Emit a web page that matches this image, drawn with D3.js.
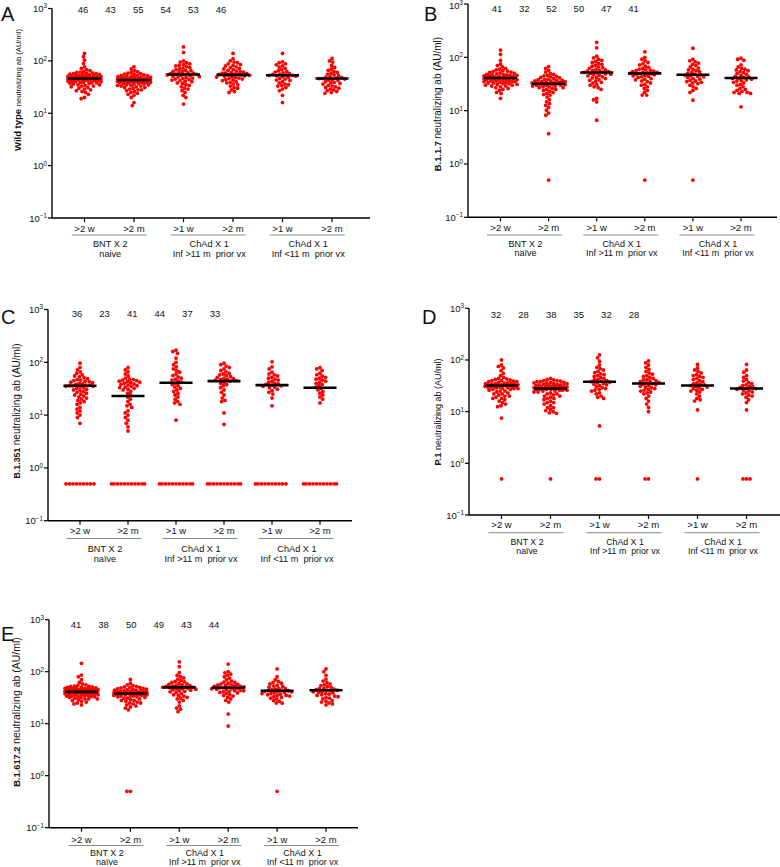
<!DOCTYPE html>
<html><head><meta charset="utf-8">
<script src="https://cdn.jsdelivr.net/npm/d3@7"></script>
<style>body{margin:0;background:#fff}svg{display:block}text{font-family:"Liberation Sans",Arial,Helvetica,sans-serif;fill:#111}</style>
</head><body>
<script>
// ---------- data ----------
const timepoints = [">2 w", ">2 m", ">1 w", ">2 m", ">1 w", ">2 m"];
const cohortLine1 = ["BNT X 2", "ChAd X 1", "ChAd X 1"];
const cohortLine2 = ["naïve", "Inf >11 m  prior vx", "Inf <11 m  prior vx"];
const cohortLine2A = ["naive", "Inf >11 m  prior vx", "Inf <11 m  prior vx"];
const variants = ["Wild type", "B.1.1.7", "B.1.351", "P.1", "B.1.617.2"];
const panelLetters = ["A", "B", "C", "D", "E"];
const yTickValues = [0.1, 1, 10, 100, 1000];
const yTickExponents = ["-1", "0", "1", "2", "3"];

const wildTypeMedians = [46, 43, 55, 54, 53, 46];
const b117Medians = [41, 32, 52, 50, 47, 41];
const b1351Medians = [36, 23, 41, 44, 37, 33];
const p1Medians = [32, 28, 38, 35, 32, 28];
const b16172Medians = [41, 38, 50, 49, 43, 44];

const wildTypeValues = [
 [139,120,103,89,77,72,68,65,63,61,60,59,58,57,57,56,55,55,54,53,53,52,52,51,51,50,50,50,49,49,48,48,48,47,47,47,46,46,46,46,46,45,45,45,45,44,44,44,43,43,43,42,42,42,41,41,40,40,39,39,38,38,37,37,36,35,35,34,33,33,32,31,30,29,28,27,26,25,23,20,19],
 [77,70,65,62,60,58,57,56,55,54,53,52,52,51,50,50,49,49,48,48,47,47,46,46,46,45,45,45,44,44,44,44,43,43,43,43,43,42,42,42,42,41,41,41,40,40,40,39,39,39,38,38,37,37,36,36,35,35,34,34,33,33,32,31,31,30,29,28,28,27,26,25,24,23,22,20,16,14],
 [185,145,100,95,92,88,85,82,80,78,75,73,70,68,66,65,63,62,60,59,58,57,56,55,55,54,53,52,51,50,49,48,47,46,45,44,43,42,41,40,38,37,35,34,32,30,29,27,25,22,20,15],
 [139,110,100,95,92,88,85,82,80,77,74,72,70,68,66,64,62,61,60,59,58,57,56,55,55,54,54,53,52,51,50,49,48,47,46,45,44,43,42,40,39,38,36,35,33,31,30,28,26,25],
 [139,96,92,88,84,80,76,72,68,65,63,61,59,57,56,55,54,53,53,52,51,50,48,46,45,43,42,40,38,36,35,34,33,31,29,27,22,16],
 [111,100,95,82,75,70,66,63,60,58,56,54,52,50,49,48,47,46,46,45,44,43,42,40,39,38,37,36,34,33,32,31,30,29,28,27,26,25,24]
];
const b117Values = [
 [137,114,88,75,70,66,62,60,58,56,55,54,53,52,51,50,49,48,48,47,47,46,46,45,45,44,44,43,43,43,42,42,42,41,41,41,40,40,40,39,39,39,38,38,37,37,36,36,35,35,35,34,34,33,33,32,32,31,31,30,30,29,29,28,27,26,25,24,22,21,17],
 [67,62,57,53,50,48,46,45,44,43,42,41,40,39,38,38,37,37,36,36,35,35,34,34,34,33,33,33,32,32,32,32,31,31,31,30,30,30,29,29,28,28,27,27,26,25,25,24,23,22,21,20,19.6,18,16,14.6,13.5,12.6,11.5,10.2,9,8.2,3.7,0.5],
 [191,151,105,98,92,88,84,80,77,74,71,68,66,64,62,60,58,57,56,55,54,53,52,51,50,49,48,47,46,45,43,42,41,40,38,37,36,34,33,31,30,28,27,25,17,16,14.6,6.6],
 [127,100,92,86,80,76,72,68,65,62,60,58,57,56,55,54,53,52,51,50,50,49,48,47,46,45,44,43,42,40,39,38,36,35,33,31,30,28,26,24,22,19.6,19.6,0.5],
 [148,92,86,82,78,74,70,66,63,60,58,56,54,52,50,48,47,46,45,44,43,42,40,39,37,36,35,34,33,32,30,28,26,24,22,15.7,0.5],
 [96,92,88,72,66,62,60,58,56,54,52,50,48,46,44,43,42,41,40,39,38,37,36,34,33,31,30,28,26,25,24,23,22,22,21,21,11.8]
];
const b1351Values = [
 [96,80,72,66,62,58,55,53,51,49,47,46,45,44,43,42,41,40,39,38,37,37,36,36,35,35,34,33,32,31,30,29,28,27,26,25,24,23,22,21,20,19,18,17,16,14,13,12,11,10,9,7,0.5,0.5,0.5,0.5,0.5,0.5,0.5,0.5,0.5],
 [79,72,66,60,55,50,48,47,46,45,44,43,42,41,40,39,38,37,36,35,34,33,32,31,30,28,26,24,22,20,18,16,15,14,12,11,10,9,8,7,6,5,0.5,0.5,0.5,0.5,0.5,0.5,0.5,0.5,0.5,0.5,0.5],
 [170,160,148,120,100,90,82,75,70,65,60,56,53,50,48,46,44,42,40,38,36,34,32,30,28,26,24,22,20,18,17,16,8,0.5,0.5,0.5,0.5,0.5,0.5,0.5,0.5,0.5,0.5,0.5],
 [96,90,85,80,75,70,66,62,60,58,56,54,52,50,49,48,47,46,45,44,42,40,38,36,33,30,27,24,21,19,18,11,6.7,0.5,0.5,0.5,0.5,0.5,0.5,0.5,0.5,0.5,0.5,0.5],
 [102,82,75,65,60,58,55,52,50,48,46,44,42,40,39,38,37,36,35,34,33,31,29,27,25,21,15,0.5,0.5,0.5,0.5,0.5,0.5,0.5,0.5,0.5,0.5],
 [79,75,70,62,58,55,52,50,48,46,44,42,40,38,36,34,32,30,28,26,24,22,20,17,0.5,0.5,0.5,0.5,0.5,0.5,0.5,0.5,0.5,0.5,0.5]
];
const p1Values = [
 [100,80,75,70,62,55,50,46,44,43,42,41,40,40,39,38,38,37,36,36,35,35,35,34,34,33,33,33,33,32,32,32,31,31,31,31,30,30,30,29,29,28,28,28,27,27,26,25,25,24,23,22,22,21,20,20,19,18,18,17,16,15,14,13,12.5,7.5,0.5],
 [44,42,41,40,40,39,38,38,37,37,36,36,35,35,34,34,33,33,33,32,32,31,31,31,30,30,30,29,29,29,29,28,28,28,28,27,27,27,27,26,26,26,25,25,24,24,23,22,22,21,20,20,19,18,18,17,16,15,15,14,13,12,12,11,10.5,10,9.5,9.3,0.5],
 [125,110,95,80,72,68,64,60,57,54,52,50,48,46,44,42,41,40,39,38,37,36,35,34,33,32,30,29,28,27,26,25,23,22,20,19,18,5.3,0.5,0.5],
 [96,88,80,72,66,60,56,53,50,48,46,44,42,41,40,39,38,37,36,35,34,33,32,31,30,29,28,27,26,25,24,23,22,20,18,16,14,12,10,0.5,0.5],
 [82,70,64,60,56,52,50,48,46,44,42,40,38,36,35,34,33,32,31,30,29,28,27,26,25,24,22,20,18,17,16,10.8,0.5],
 [82,64,58,50,46,42,39,37,35,33,32,31,30,29,28,28,27,26,25,24,23,22,21,20,19,17,15,10.8,0.5,0.5,0.5]
];
const b16172Values = [
 [145,86,80,70,62,58,56,54,53,52,52,51,50,50,49,48,48,48,47,47,46,46,45,45,45,44,44,44,43,43,43,43,42,42,42,41,41,41,41,40,40,40,40,39,39,39,38,38,38,37,37,36,36,36,35,35,34,34,34,33,33,32,32,31,30,30,30,29,28,27,26,25,24,23],
 [71,60,56,54,52,51,50,50,49,48,47,46,46,45,44,44,43,43,42,42,42,41,41,40,40,40,39,39,38,38,38,38,37,37,37,36,36,36,35,35,34,34,34,33,33,32,31,31,30,29,28,28,27,26,25,25,24,23,22,21,20,18.5,0.5,0.5],
 [155,125,96,85,80,76,72,68,65,64,62,60,58,57,56,55,54,53,52,51,51,50,50,49,48,47,47,46,45,44,43,42,41,40,38,36,35,34,32,31,30,28,26,22,20,19,17],
 [140,100,95,90,85,80,75,70,66,63,62,60,58,57,56,55,54,53,52,52,51,50,49,49,48,47,47,46,45,44,43,43,42,41,40,39,38,36,35,34,32,30,28,26,15.3,9],
 [113,80,70,65,62,60,58,55,53,52,50,48,47,46,45,44,43,43,42,41,41,40,39,38,38,37,36,35,35,34,33,32,31,30,28,27,25,24.8,0.5],
 [113,100,85,72,66,62,58,56,54,52,50,48,47,46,45,44,44,43,42,41,40,39,38,37,36,35,34,33,32,31,30,28,27,26,25,24,23]
];

const panelValues = [wildTypeValues, b117Values, b1351Values, p1Values, b16172Values];
const panelMedians = [wildTypeMedians, b117Medians, b1351Medians, p1Medians, b16172Medians];

// ---------- layout (positions only) ----------
const layout = [
 {ax:52, xEnd:370, yTop:8.5, yBot:218, c0:84.5, step:49.5, numX0:83, numStep:27.6, numBase:13, tickBase:232, bracketY:235, coh1:247, coh2:257, cohSize:9.2, labelX:21, labelY:90, boldSize:9.5, normSize:7.6, letterX:1, letterY:21},
 {ax:468, xEnd:777, yTop:4, yBot:217.3, c0:500.5, step:48.1, numX0:497, numStep:27.3, numBase:12, tickBase:231, bracketY:235, coh1:246.5, coh2:256, cohSize:9, labelX:441, labelY:104, boldSize:9.3, normSize:10, letterX:424, letterY:21},
 {ax:48, xEnd:352, yTop:309.5, yBot:520.7, c0:80, step:48, numX0:77, numStep:27.6, numBase:317, tickBase:534, bracketY:538.5, coh1:551.5, coh2:561.5, cohSize:9.2, labelX:20, labelY:411, boldSize:8.8, normSize:10, letterX:1, letterY:324},
 {ax:469, xEnd:780, yTop:308.3, yBot:515, c0:501.5, step:49, numX0:496, numStep:27.6, numBase:318, tickBase:528, bracketY:532.7, coh1:544.5, coh2:554, cohSize:8.8, labelX:441, labelY:412, boldSize:9.3, normSize:9, letterX:422, letterY:324},
 {ax:49, xEnd:358, yTop:619.7, yBot:827.7, c0:81.5, step:48.9, numX0:76, numStep:27.6, numBase:627.5, tickBase:842.5, bracketY:845.5, coh1:855.5, coh2:865, cohSize:9, labelX:20, labelY:712, boldSize:9.3, normSize:10.5, letterX:1, letterY:641}
];

const W = 780, H = 867;
const svg = d3.select("body").append("svg").attr("width", W).attr("height", H);

function swarm(vals, ys, d, maxHalf) {
  const pts = vals.map(v => ({v, y: ys(v), x: 0})).sort((a, b) => b.v - a.v);
  const placed = [];
  for (const p of pts) {
    const near = placed.filter(q => Math.abs(q.y - p.y) < d);
    const cands = [0];
    for (const q of near) {
      const dx = Math.sqrt(d * d - (q.y - p.y) ** 2);
      cands.push(q.x + dx, q.x - dx);
    }
    cands.sort((a, b) => Math.abs(a) - Math.abs(b) || a - b);
    let best = null;
    for (const c of cands) {
      if (Math.abs(c) > maxHalf + 1e-6) continue;
      if (near.every(q => (q.x - c) ** 2 + (q.y - p.y) ** 2 >= d * d - 1e-6)) { best = c; break; }
    }
    if (best === null) {
      let bm = -1;
      for (let c = -maxHalf; c <= maxHalf; c += 0.5) {
        const md = Math.min(...near.map(q => Math.hypot(q.x - c, q.y - p.y)));
        if (md > bm) { bm = md; best = c; }
      }
    }
    p.x = best;
    placed.push(p);
  }
  return pts;
}

panelValues.forEach((groups, pi) => {
  const L = layout[pi];
  const g = svg.append("g");
  const y = d3.scaleLog().domain([0.1, 1000]).range([L.yBot, L.yTop]);
  const x = d3.scalePoint().domain(d3.range(6)).range([L.c0, L.c0 + 5 * L.step]);

  // panel letter
  g.append("text").attr("x", L.letterX).attr("y", L.letterY).attr("font-size", 20).text(panelLetters[pi]);

  // y axis
  g.append("line").attr("x1", L.ax).attr("x2", L.ax).attr("y1", L.yTop).attr("y2", L.yBot)
    .attr("stroke", "#000").attr("stroke-width", 1.4);
  yTickValues.forEach((t, i) => {
    g.append("line").attr("x1", L.ax - 4).attr("x2", L.ax).attr("y1", y(t)).attr("y2", y(t))
      .attr("stroke", "#000").attr("stroke-width", 1.2);
    const base = Math.max(y(t) + 3.5, 8.6);
    const tx = g.append("text").attr("x", L.ax - 5).attr("y", base)
      .attr("text-anchor", "end").attr("font-size", 9.5);
    tx.append("tspan").text("10");
    tx.append("tspan").attr("dy", -3.6).attr("font-size", 6.3).text(yTickExponents[i] === "-1" ? "\u22121" : yTickExponents[i]);
  });

  // x axis
  g.append("line").attr("x1", L.ax).attr("x2", L.xEnd).attr("y1", L.yBot).attr("y2", L.yBot)
    .attr("stroke", "#000").attr("stroke-width", 1.4);
  timepoints.forEach((t, i) => {
    g.append("line").attr("x1", x(i)).attr("x2", x(i)).attr("y1", L.yBot).attr("y2", L.yBot + 4)
      .attr("stroke", "#000").attr("stroke-width", 1.2);
    g.append("text").attr("x", x(i)).attr("y", L.tickBase).attr("text-anchor", "middle")
      .attr("font-size", 9.5).text(t);
  });
  const line2 = pi === 0 ? cohortLine2A : cohortLine2;
  cohortLine1.forEach((c, k) => {
    const mid = (x(2 * k) + x(2 * k + 1)) / 2;
    g.append("line").attr("x1", mid - 37.5).attr("x2", mid + 37.5).attr("y1", L.bracketY).attr("y2", L.bracketY)
      .attr("stroke", "#8a8a8a").attr("stroke-width", 1);
    g.append("text").attr("x", mid + 1).attr("y", L.coh1).attr("text-anchor", "middle").attr("font-size", L.cohSize).text(c);
    g.append("text").attr("x", mid + 1).attr("y", L.coh2).attr("text-anchor", "middle").attr("font-size", L.cohSize)
      .style("white-space", "pre").text(line2[k]);
  });

  // y label
  const lab = g.append("text").attr("transform", `translate(${L.labelX},${L.labelY}) rotate(-90)`)
    .attr("text-anchor", "middle");
  lab.append("tspan").attr("font-weight", "bold").attr("font-size", L.boldSize).text(variants[pi] + " ");
  lab.append("tspan").attr("font-size", L.normSize).text("neutralizing ab (AU/ml)");

  // median numbers at top
  panelMedians[pi].forEach((m, i) => {
    g.append("text").attr("x", L.numX0 + i * L.numStep).attr("y", L.numBase).attr("text-anchor", "middle")
      .attr("font-size", 9.5).text(m);
  });

  // dots
  groups.forEach((vals, gi) => {
    const pts = swarm(vals, y, 3.5, 16.5);
    g.append("g").selectAll("circle").data(pts).join("circle")
      .attr("cx", p => x(gi) + p.x).attr("cy", p => p.y).attr("r", 1.9).attr("fill", "#ff0000");
  });
  // median lines
  panelMedians[pi].forEach((m, i) => {
    g.append("line").attr("x1", x(i) - 16.5).attr("x2", x(i) + 16.5).attr("y1", y(m)).attr("y2", y(m))
      .attr("stroke", "#000").attr("stroke-width", 2.6);
  });
});
</script>
</body></html>
